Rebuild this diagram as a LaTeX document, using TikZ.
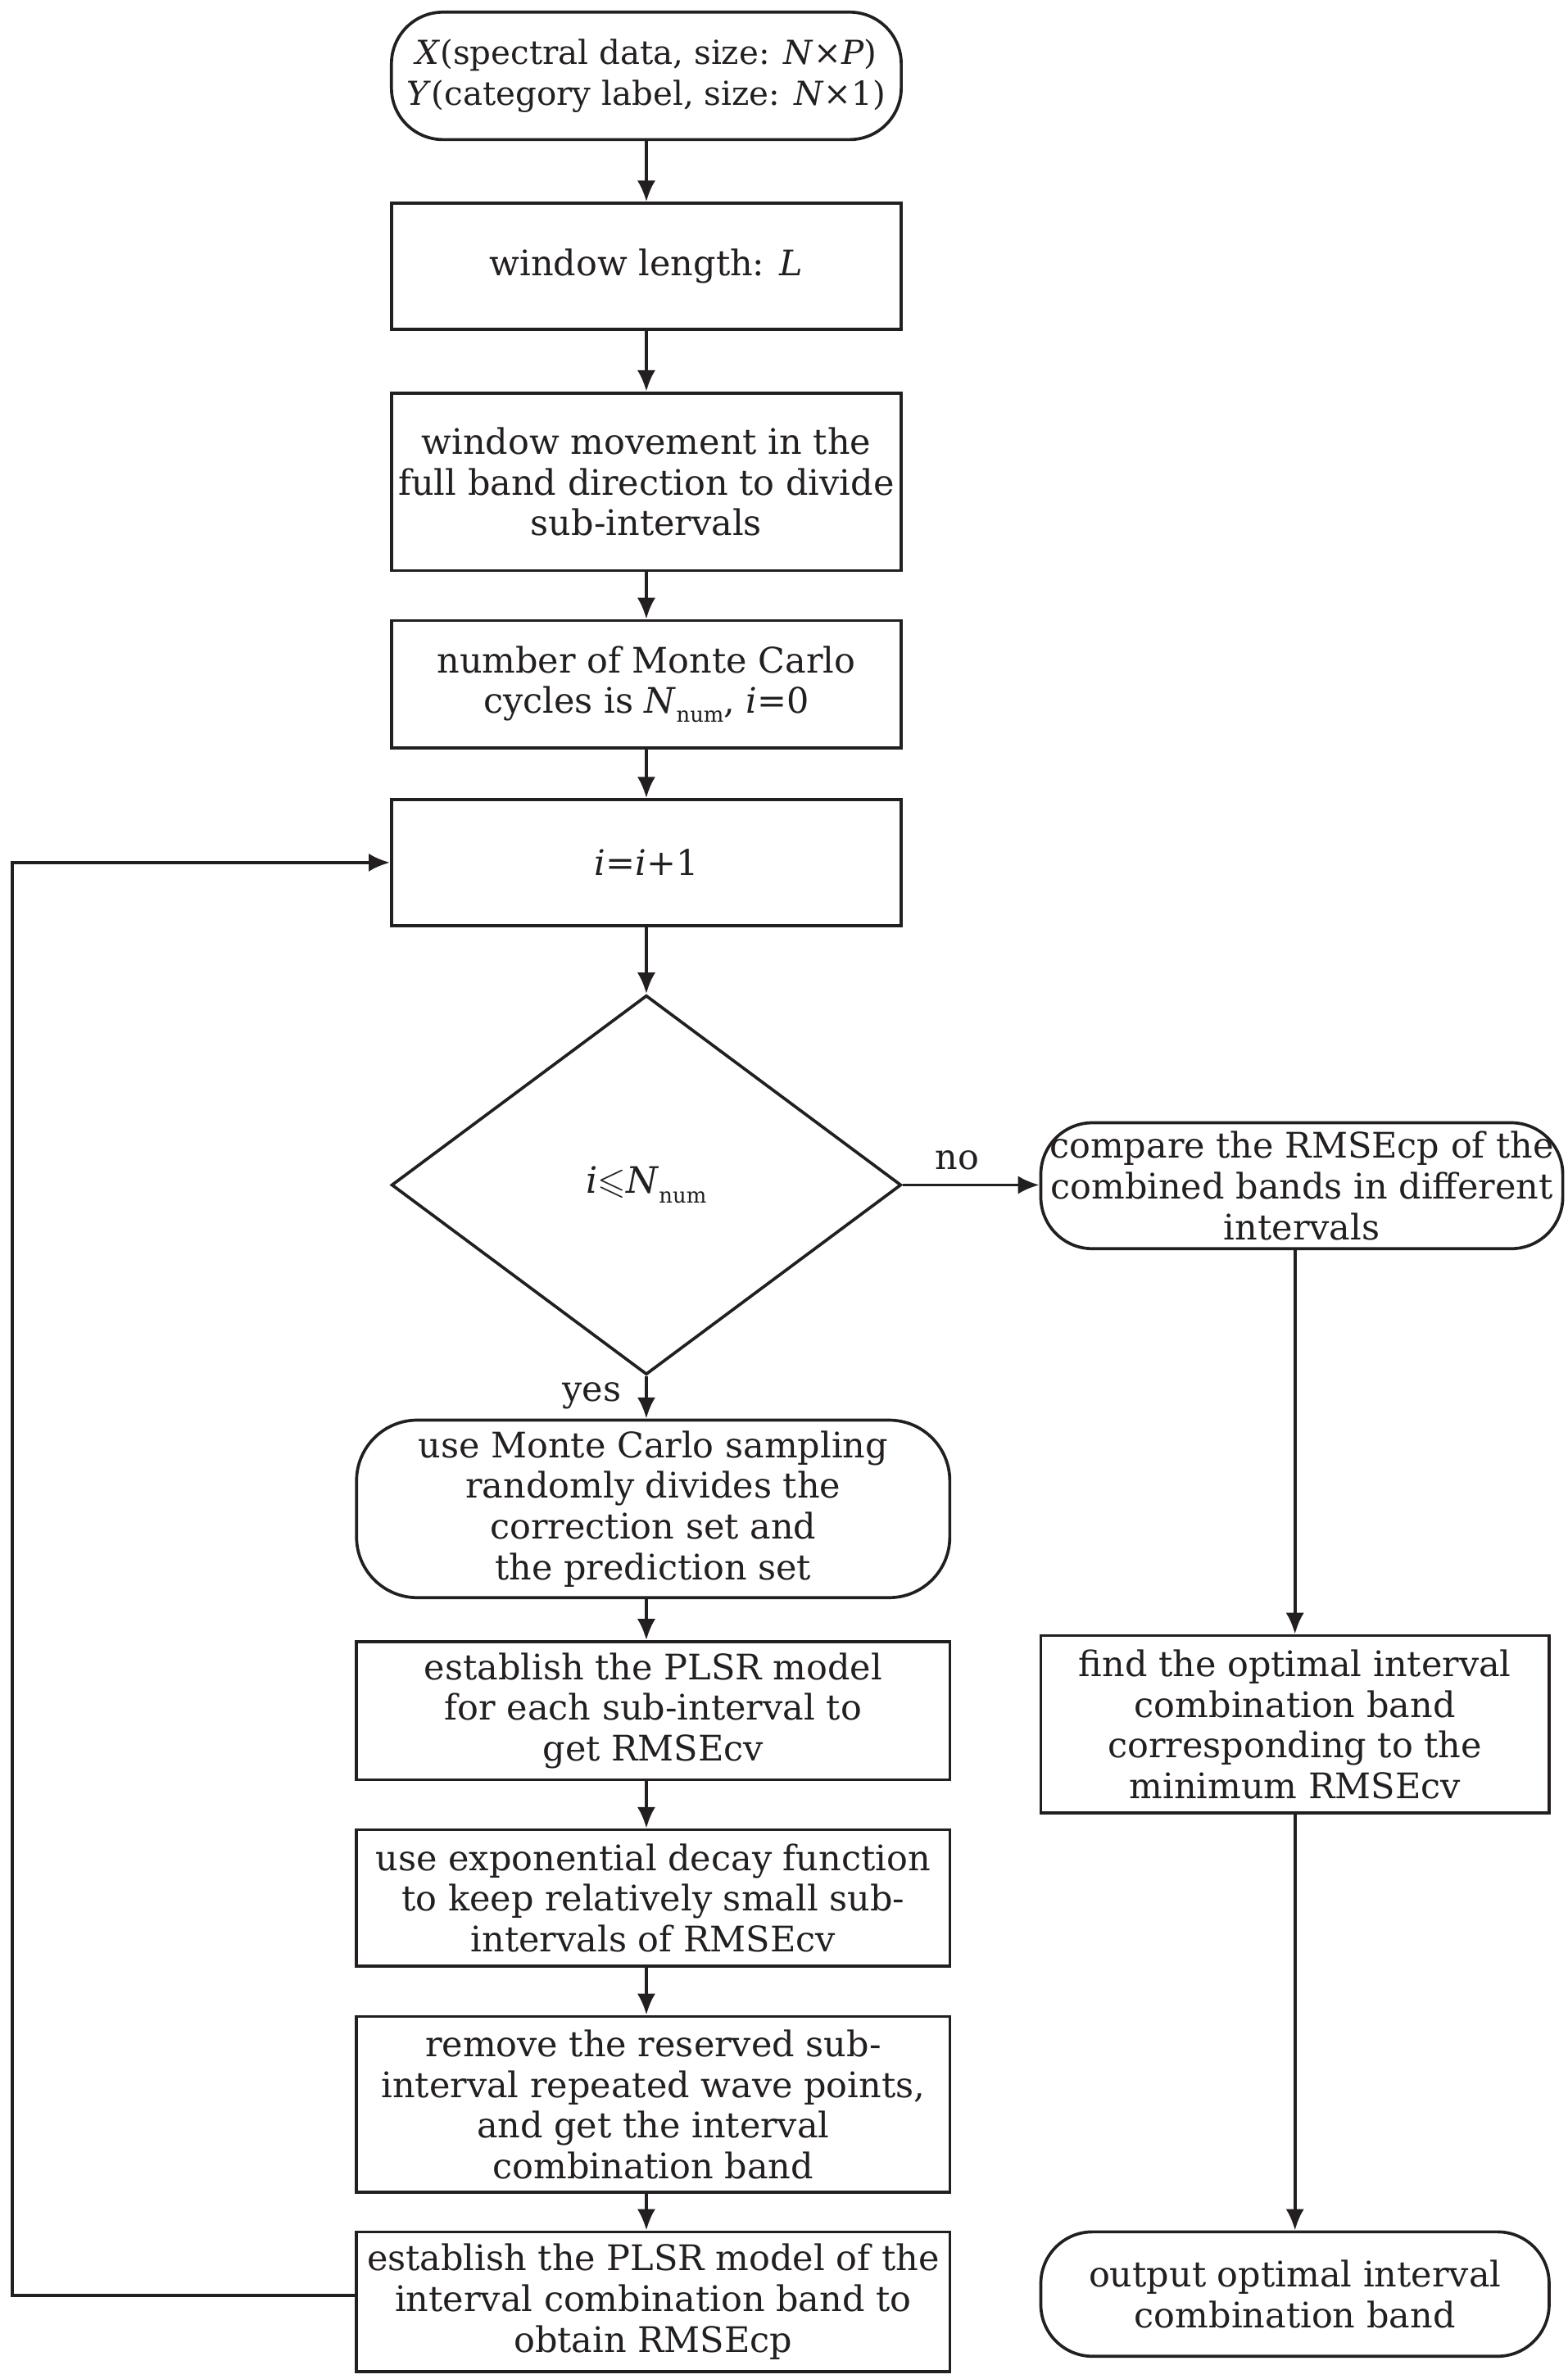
\documentclass[tikz,border=0pt]{standalone}
\usepackage{fontspec}
\usepackage{amssymb}
\setmainfont{DejaVu Serif}
\usetikzlibrary{arrows.meta,shapes.geometric}
\definecolor{ink}{HTML}{231F20}
\tikzset{arrowout/.style={-{Latex[length=7pt,width=6pt]},line width=1pt,draw=ink},
stepbox/.style={rectangle,draw=ink,line width=1pt,align=center,inner sep=0pt,text=ink},
roundbox/.style={stepbox,rounded corners=17pt},
test/.style={diamond,draw=ink,line width=1pt,inner sep=0pt,text=ink}}
\newcommand{\Nnum}{\textit{N}\raisebox{-0.5ex}{\scriptsize num}}

\begin{document}
\begin{tikzpicture}[x=0.5pt,y=-0.5pt,font=\fontsize{11.6}{13.4}\selectfont]
\useasboundingbox (0,0) rectangle (1033,1568);

%main column
\node (start) at (426,50)[roundbox,minimum width=168pt,minimum height=42pt,font=\fontsize{10.9}{13.4}\selectfont]{\textit{X}(spectral data, size: \textit{N}×\textit{P})\\\textit{Y}(category label, size: \textit{N}×1)};
\node (wlen) at (426,175.5)[stepbox,minimum width=168pt,minimum height=41.5pt]{window length: \textit{L}};
\node (move) at (426,317.5)[stepbox,minimum width=168pt,minimum height=58.5pt]{window movement in the\\full band direction to divide\\sub-intervals};
\node (ncyc) at (426,451)[stepbox,minimum width=168pt,minimum height=42pt]{number of Monte Carlo\\cycles is \Nnum, \textit{i}=0};
\node (inc) at (426,568.5)[stepbox,minimum width=168pt,minimum height=41.5pt]{\textit{i}=\textit{i}+1};
\node (dec) at (426,781)[test,minimum width=168pt,minimum height=125pt]{\large\textit{i}$\leqslant$\Nnum};

%loop body
\node (mcs) at (430.5,994.5)[roundbox,rounded corners=20pt,minimum width=195.5pt,minimum height=58.5pt]{use Monte Carlo sampling\\randomly divides the\\correction set and\\the prediction set};
\node (plsr) at (430.5,1127.5)[stepbox,minimum width=195.5pt,minimum height=45.5pt]{establish the PLSR model\\for each sub-interval to\\get RMSEcv};
\node (expd) at (430.5,1251)[stepbox,minimum width=195.5pt,minimum height=45pt]{use exponential decay function\\to keep relatively small sub-\\intervals of RMSEcv};
\node (rmv) at (430.5,1387)[stepbox,minimum width=195.5pt,minimum height=58pt]{remove the reserved sub-\\interval repeated wave points,\\and get the interval\\combination band};
\node (plsrc) at (430.5,1517)[stepbox,minimum width=195.5pt,minimum height=46pt]{establish the PLSR model of the\\interval combination band to\\obtain RMSEcp};

%exit column
\node (cmp) at (858,781.5)[roundbox,minimum width=172pt,minimum height=41.5pt]{compare the RMSEcp of the\\combined bands in different\\intervals};
\node (opt) at (853.5,1136.5)[stepbox,minimum width=167.5pt,minimum height=58.5pt]{find the optimal interval\\combination band\\corresponding to the\\minimum RMSEcv};
\node (out) at (853.5,1512)[roundbox,minimum width=167.5pt,minimum height=41pt]{output optimal interval\\combination band};

%arrows
\draw[arrowout] (start) -- (wlen);
\draw[arrowout] (wlen) -- (move);
\draw[arrowout] (move) -- (ncyc);
\draw[arrowout] (ncyc) -- (inc);
\draw[arrowout] (inc) -- (dec);
\draw[arrowout] (dec.south) -- (dec.south |- mcs.north);
\draw[arrowout] (dec.south |- mcs.south) -- (dec.south |- plsr.north);
\draw[arrowout] (dec.south |- plsr.south) -- (dec.south |- expd.north);
\draw[arrowout] (dec.south |- expd.south) -- (dec.south |- rmv.north);
\draw[arrowout] (dec.south |- rmv.south) -- (dec.south |- plsrc.north);
\draw[arrowout] (dec.east) -- (dec.east -| cmp.west) node[pos=0.4,above=1pt,text=ink]{no};
\node at (390,920)[text=ink]{yes};
\draw[arrowout] (opt.north |- cmp.south) -- (opt.north);
\draw[arrowout] (opt) -- (out);

%back to i=i+1
\coordinate (back) at (8,1513);
\draw[arrowout] (plsrc.west |- back) -- (back) |- (inc.west);
\end{tikzpicture}
\end{document}
